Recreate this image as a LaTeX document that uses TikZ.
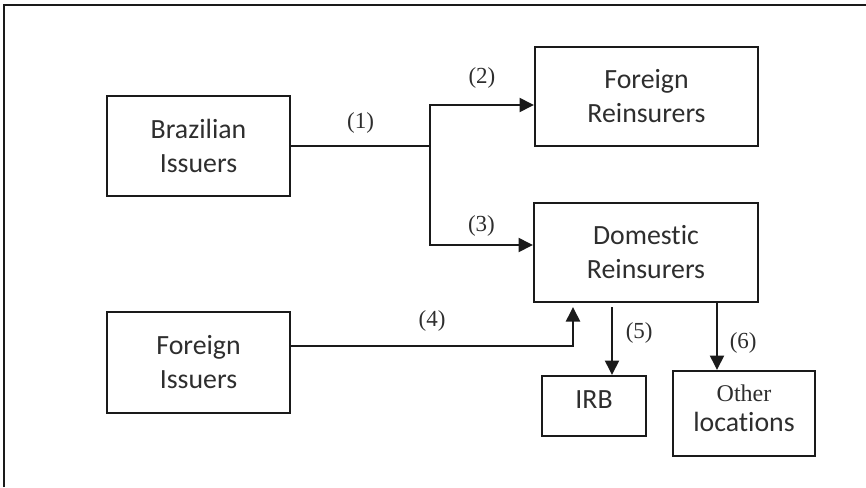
\documentclass[tikz,border=0pt]{standalone}
\usepackage{fontspec}
\setmainfont{Carlito}[Ligatures=NoCommon]
\newfontfamily\labelfont{Liberation Serif}
\usepackage{xcolor}
\usetikzlibrary{positioning, arrows.meta}
\definecolor{boxline}{HTML}{1A1A1A}
\definecolor{boxtext}{HTML}{2E2E2E}

\begin{document}
\begin{tikzpicture}[x=0.5pt, y=-0.5pt,
    flowbox/.style={draw=boxline, line width=1.1pt, align=center, text=boxtext,
      font=\fontsize{13.9}{17}\selectfont, inner sep=0pt},
    flow/.style={draw=boxline, line width=1.1pt, -{Triangle[length=7.2pt, width=7pt]}},
    tag/.style={font=\labelfont\fontsize{11.5}{13}\selectfont, text=boxtext}]
  \useasboundingbox (0,0) rectangle (866,487);
  \draw[boxline, line width=1pt] (4,487) -- (4,5) -- (866,5);

  \node[flowbox, minimum width=91.5pt, minimum height=50pt] (brazil) at (198.5,146) {Brazilian\\Issuers};
  \node[flowbox, minimum width=91.5pt, minimum height=50.5pt] (foreignIss) at (198.5,362.5) {Foreign\\Issuers};
  \node[flowbox, minimum width=111.5pt, minimum height=49.5pt] (foreignRe) at (646.5,96.5) {Foreign\\Reinsurers};
  \node[flowbox, minimum width=112pt, minimum height=49.5pt] (domRe) at (646,252.5) {Domestic\\Reinsurers};
  \node[flowbox, minimum width=52pt, minimum height=30pt, text depth=6pt] (irb) at (594,406) {IRB};
  \node[flowbox, minimum width=71pt, minimum height=42.5pt, text depth=5.5pt] (other) at (744,413.5)
    {{\labelfont\fontsize{12}{14}\selectfont Other}\\[-2pt]locations};

  \coordinate (split) at (430,146);
  \coordinate (irbdrop) at ([xshift=-17pt]domRe.south);
  \coordinate (otherdrop) at ([xshift=35.5pt]domRe.south);

  \draw[boxline, line width=1.1pt] (brazil.east) -- (split) node[tag, midway, above=2.3pt] {(1)};
  \draw[flow] (split) |- ([yshift=-4.25pt]foreignRe.west) node[tag, pos=0.75, above=4.3pt] {(2)};
  \draw[flow] (split) |- ([yshift=3.75pt]domRe.west) node[tag, pos=0.75, above=0.3pt] {(3)};
  \draw[flow, shorten >=2pt] ([yshift=8.25pt]foreignIss.east) -| ([xshift=-36.5pt]domRe.south)
    node[tag, pos=0.25, above=3.3pt] {(4)};
  \draw[flow, shorten <=2pt] (irbdrop) -- (irbdrop |- irb.north)
    node[tag, midway, right=3pt, yshift=3pt] {(5)};
  \draw[flow] (otherdrop) -- (otherdrop |- other.north)
    node[tag, midway, right=2.5pt, yshift=-3pt] {(6)};
\end{tikzpicture}
\end{document}
